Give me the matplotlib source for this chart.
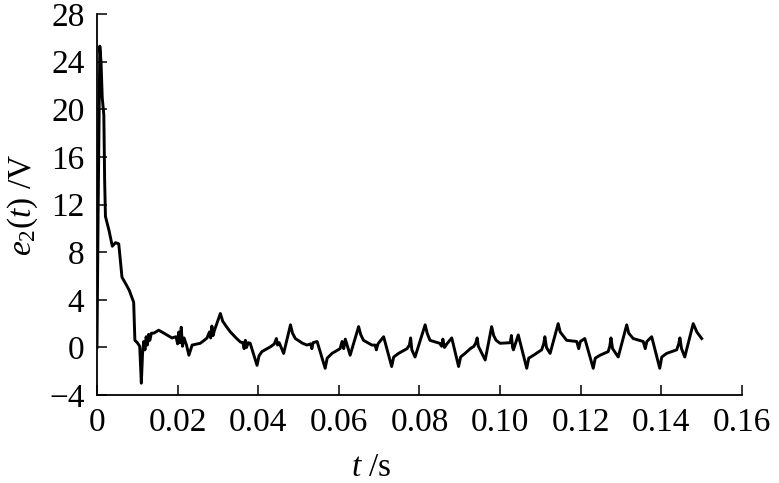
import matplotlib
matplotlib.use("Agg")
import matplotlib.pyplot as plt

plt.rcParams['font.family'] = ['Liberation Serif', 'DejaVu Serif']
plt.rcParams['mathtext.fontset'] = 'custom'
plt.rcParams['mathtext.rm'] = 'Liberation Serif'
plt.rcParams['mathtext.it'] = 'Liberation Serif:italic'

fontsize = 24

# values: time (s) and e2(t) (V)
t_s = [
    0.0000, 0.0003, 0.0007, 0.0010, 0.0013, 0.0017, 0.0019, 0.0021, 0.0030, 0.0038,
    0.0046, 0.0054, 0.0062, 0.0072, 0.0080, 0.0091, 0.0094, 0.0100, 0.0106, 0.0110,
    0.0113, 0.0116, 0.0119, 0.0122, 0.0125, 0.0128, 0.0131, 0.0135, 0.0141, 0.0153,
    0.0166, 0.0186, 0.0196, 0.0200, 0.0203, 0.0206, 0.0209, 0.0212, 0.0216, 0.0222,
    0.0228, 0.0236, 0.0256, 0.0266, 0.0273, 0.0279, 0.0282, 0.0285, 0.0288, 0.0291,
    0.0306, 0.0312, 0.0320, 0.0331, 0.0345, 0.0356, 0.0362, 0.0365, 0.0368, 0.0371,
    0.0375, 0.0380, 0.0397, 0.0402, 0.0409, 0.0430, 0.0440, 0.0445, 0.0448, 0.0452,
    0.0463, 0.0480, 0.0485, 0.0492, 0.0510, 0.0521, 0.0530, 0.0533, 0.0536, 0.0546,
    0.0566, 0.0571, 0.0583, 0.0603, 0.0608, 0.0612, 0.0616, 0.0628, 0.0649, 0.0654,
    0.0661, 0.0682, 0.0690, 0.0693, 0.0697, 0.0711, 0.0731, 0.0736, 0.0748, 0.0769,
    0.0775, 0.0778, 0.0781, 0.0789, 0.0814, 0.0819, 0.0826, 0.0850, 0.0855, 0.0858,
    0.0862, 0.0868, 0.0880, 0.0897, 0.0902, 0.0913, 0.0926, 0.0935, 0.0940, 0.0943,
    0.0946, 0.0963, 0.0979, 0.0984, 0.0990, 0.1000, 0.1025, 0.1028, 0.1031, 0.1033,
    0.1045, 0.1066, 0.1071, 0.1083, 0.1103, 0.1108, 0.1111, 0.1115, 0.1124, 0.1144,
    0.1149, 0.1165, 0.1190, 0.1195, 0.1199, 0.1210, 0.1231, 0.1236, 0.1248, 0.1268,
    0.1272, 0.1275, 0.1279, 0.1293, 0.1314, 0.1319, 0.1330, 0.1355, 0.1360, 0.1364,
    0.1376, 0.1396, 0.1401, 0.1413, 0.1438, 0.1443, 0.1446, 0.1450, 0.1458, 0.1479,
    0.1488, 0.1500,
]
e2_v = [
    0.0, 12.0, 25.3, 24.0, 21.0, 19.5, 14.0, 11.0, 9.8, 8.5,
    8.8, 8.7, 5.9, 5.3, 4.8, 3.8, 0.6, 0.4, 0.1, -3.0,
    -0.5, 0.5, -0.2, 0.9, 0.2, 1.1, 0.6, 1.2, 1.2, 1.45,
    1.2, 0.8, 0.9, 0.3, 1.3, 0.4, 1.7, 0.1, 0.8, 0.2,
    -0.65, 0.2, 0.35, 0.6, 0.8, 1.3, 0.8, 1.8, 1.0, 1.4,
    2.85, 2.2, 1.8, 1.3, 0.8, 0.45, 0.4, -0.1, 0.6, 0.0,
    0.4, 0.35, -1.5, -0.7, -0.35, 0.05, 0.3, 0.75, 0.2, 0.4,
    -0.5, 1.9, 1.2, 0.75, 0.35, 0.2, 0.3, -0.1, 0.4, 0.5,
    -1.75, -0.9, -0.5, -0.1, 0.5, -0.1, 0.7, -0.65, 1.75, 1.1,
    0.6, 0.2, 0.2, -0.2, 0.3, 0.9, -1.6, -0.8, -0.5, -0.1,
    0.2, 0.8, -0.2, -0.8, 1.9, 1.2, 0.6, 0.35, 0.1, 0.7,
    0.0, 0.3, 0.8, -1.6, -0.8, -0.5, -0.1, 0.1, 0.4, 0.8,
    0.1, -1.05, 1.75, 1.0, 0.6, 0.35, 0.4, 1.0, 0.0, -0.2,
    1.05, -1.75, -0.9, -0.65, -0.2, 0.3, 0.9, 0.0, -0.5, 2.0,
    1.3, 0.6, 0.5, -0.1, 0.5, 0.75, -1.75, -0.9, -0.65, -0.35,
    0.1, 0.8, -0.1, -0.8, 1.9, 1.2, 0.75, 0.5, -0.1, 0.5,
    0.9, -1.75, -0.8, -0.5, -0.2, 0.3, 0.8, -0.1, -0.8, 2.0,
    1.3, 0.75,
]

x_ticks = [0, 0.02, 0.04, 0.06, 0.08, 0.10, 0.12, 0.14, 0.16]
x_ticklabels = ["0", "0.02", "0.04", "0.06", "0.08", "0.10", "0.12", "0.14", "0.16"]
y_ticks = [-4, 0, 4, 8, 12, 16, 20, 24, 28]
y_ticklabels = ["\u22124", "0", "4", "8", "12", "16", "20", "24", "28"]

fig = plt.figure(figsize=(7.79, 4.83), dpi=100)
ax = fig.add_axes([0.1245, 0.182, 0.828, 0.789])

ax.plot(t_s, e2_v, color="black", linewidth=2.1, solid_joinstyle='round')

ax.set_xlim(0, 0.16)
ax.set_ylim(-4, 28)
ax.set_xticks(x_ticks)
ax.set_xticklabels(x_ticklabels)
ax.set_yticks(y_ticks)
ax.set_yticklabels(y_ticklabels)

ax.spines['top'].set_visible(False)
ax.spines['right'].set_visible(False)
ax.spines['left'].set_linewidth(1.3)
ax.spines['bottom'].set_linewidth(1.3)
ax.tick_params(axis='both', direction='in', length=7, width=1.1,
               labelsize=fontsize, pad=9)

ax.set_xlabel(r"$t$ /s", fontsize=fontsize)
ax.set_ylabel(r"$e_2(t)$ /V", fontsize=fontsize)
ax.xaxis.set_label_coords(0.426, -0.15)
ax.yaxis.set_label_coords(-0.088, 0.5)

fig.savefig("out.png", dpi=100)
